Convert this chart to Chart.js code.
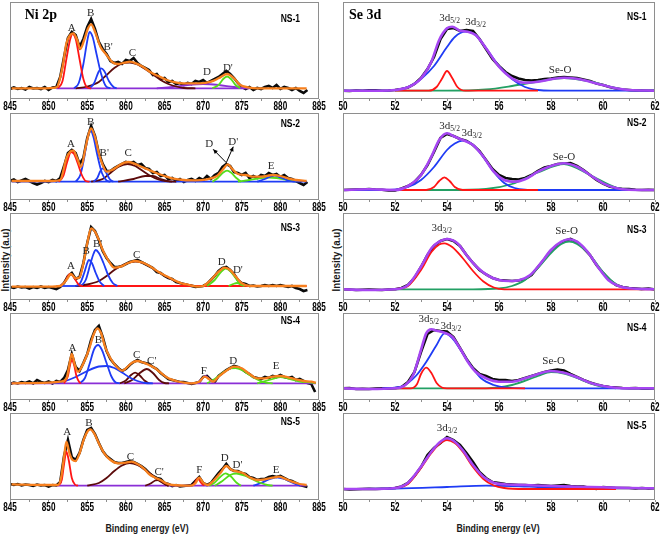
<!DOCTYPE html>
<html>
<head>
<meta charset="utf-8">
<title>Ni 2p / Se 3d XPS</title>
<script src="https://cdn.jsdelivr.net/npm/chart.js@4.4.1/dist/chart.umd.min.js"></script>
<style>
    body { margin: 0; background: #fff; }
    #wrap { position: relative; width: 661px; height: 535px; overflow: hidden; }
    #wrap canvas { position: absolute; }
    .axisTitle {
        position: absolute;
        font: bold 11px "Liberation Sans", Arial, sans-serif;
        color: #1a1a1a;
        white-space: nowrap;
        transform: translate(-50%, -50%) scaleX(0.8);
    }
    .axisTitle.vert { transform: translate(-50%, -50%) rotate(-90deg) scaleX(0.88); }
</style>
</head>
<body>
<div id="wrap">
    <div class="axisTitle" style="left:147px; top:528px;">Binding energy (eV)</div>
    <div class="axisTitle" style="left:498px; top:528px;">Binding energy (eV)</div>
    <div class="axisTitle vert" style="left:5px; top:260px;">Intensity (a.u)</div>
    <div class="axisTitle vert" style="left:336px; top:260px;">Intensity (a.u)</div>
</div>
<script>
/* ------------------- axes ------------------ */
const niTickLabels = [845, 850, 855, 860, 865, 870, 875, 880, 885];
const niMinorTicks = [847.5, 852.5, 857.5, 862.5, 867.5, 872.5, 877.5, 882.5];
const seTickLabels = [50, 52, 54, 56, 58, 60, 62];
const seMinorTicks = [51, 53, 55, 57, 59, 61];

// raw spectra are sampled on a regular energy grid
const niRawStart = 845, niRawStep = 0.5;
const seRawStart = 50, seRawStep = 0.25;

/* ------------------- Ni 2p : NS-1 ------------------ */
const ni1Raw = [10,11.5,10,11,9.5,12,10.5,11,10,12,9,11.5,12,22,42,61,67,64,52,60,72,80,70,57,50,45,38,36,37,35,39,38,41,36,33,31,29,24,25,20,21,17,18,15,16,14,16,15,18,17,19,16,18,20,22,25,28,25,21,16,12,10,12,9,11,10,12,13,11,14,10,12,11,9,11,8,6,9];
const ni1Fit = [[845.2,10.7],[849,10.7],[851,11.7],[851.8,32],[852.3,55.7],[852.8,64],[853.2,65.7],[853.7,59],[854.1,50],[854.6,59],[855.1,70.7],[855.5,74.7],[856,67.3],[856.7,52.3],[857.5,44],[858.3,36.5],[859,35],[859.8,36.3],[860.5,37.3],[861.3,35.7],[862.2,32.3],[863.1,27.3],[864.2,23],[865.3,19],[866.4,16.7],[867.4,15.7],[869.6,15.7],[871,17.3],[872,20.7],[873.1,25],[874,20.7],[874.8,14],[875.8,11.7],[877,10.7],[883.4,10.7]];
const ni1A = [[851.2,10.7],[851.8,18],[852.3,40],[852.8,60],[853.1,65],[853.5,60],[854,40],[854.5,20],[855,11.5],[855.5,10.7]];
const ni1B = [[853.3,10.7],[853.9,16],[854.5,35],[855,58],[855.3,67],[855.7,62],[856.2,45],[856.8,25],[857.4,13],[858,10.7]];
const ni1B2 = [[855.3,10.7],[855.9,16],[856.4,26],[856.8,30.7],[857.2,28],[857.8,18],[858.4,12],[858.8,10.7]];
const ni1C = [[853.5,10.7],[855,12.5],[856.5,17],[857.5,24],[858.5,31],[859.5,35.5],[860.5,36.5],[861.5,34.5],[862.5,30],[863.5,24.5],[864.5,19],[865.5,15],[866.5,12.5],[867.5,11],[869,10.7]];
const ni1D = [[864,10.7],[866,12],[868,14],[870,15],[872,14],[874,12],[876,10.7]];
const ni1D2 = [[871.2,10.7],[872,14],[872.6,20],[873.1,22.5],[873.6,20],[874.2,14],[874.8,10.7]];
const ni1Base = [[851,10.7],[876,10.7]];
const ni1Labels = [["A",853.0,71],["B",855.45,86],["B'",857.7,52],["C",860.85,46],["D",870.5,27],["D'",873.2,31]];

/* ------------------- Ni 2p : NS-2 ------------------ */
const ni2Raw = [19,20.5,18,19.5,21,19,17,15.5,17,19,18,20,19,22,34,47,50,47,36,42,62,74,64,47,36,29,29,32,34,36,38,37,38,35,36,32,31,27,28,24,25,21,22,19,21,18,20,21,19,22,20,24,21,25,27,33,36,34,28,27,25,27,22,24,22,25,24,27,25,26,23,25,22,21,19,17,15,18];
const ni2Fit = [[845.2,19],[850.5,19],[851.5,20],[852.3,41.7],[852.8,48.3],[853.2,49.3],[853.7,41.7],[854.2,33],[854.8,53],[855.2,66.7],[855.5,71.7],[856,63.3],[856.5,46.7],[857,35],[857.5,28.3],[858.2,30],[859,34],[859.8,37.3],[860.3,38],[861,36.7],[862,33.3],[863,30],[864,26.7],[865,24],[866,21.7],[867.5,20],[869,19.7],[870.5,20.7],[871.8,24],[872.5,30],[873.2,35.7],[873.8,30.7],[874.5,26],[875.5,25],[876.5,23.3],[877.5,23.3],[879,25],[880,24],[881,21.7],[882,20],[883.4,19]];
const ni2A = [[851.3,18.3],[851.9,24],[852.4,38],[852.9,48],[853.3,46],[853.8,36],[854.3,25],[854.8,19],[855.3,18.3]];
const ni2B = [[853.5,18.3],[854.1,25],[854.6,42],[855,60],[855.4,70],[855.8,63],[856.3,45],[856.9,27],[857.5,19.5],[858,18.3]];
const ni2B2 = [[855.8,18.3],[856.3,22],[856.7,29],[857,31.7],[857.4,28],[857.9,21],[858.4,18.3]];
const ni2C = [[855.5,18.3],[857,21],[858,27],[859,33],[860.2,36],[861.2,34],[862.2,29],[863.2,24],[864.2,20.5],[865.2,18.8],[866,18.3]];
const ni2C2 = [[859,18.3],[861,21],[862.5,24],[863.5,24],[864.5,21],[865.5,18.8],[866.5,18.3]];
const ni2D2 = [[871.2,18.3],[871.9,22],[872.6,27.5],[873.1,29.3],[873.6,27.5],[874.3,22],[874.9,18.3]];
const ni2E = [[874.5,18.3],[876,20],[877.5,22],[878.5,22.5],[879.5,22],[881,20],[882,18.3]];
const ni2E2 = [[877,18.3],[878,21],[879.2,24.5],[880.2,22],[881.2,19],[882,18.3]];
const ni2Base = [[845.2,18.3],[883.4,18.3]];
const ni2Labels = [["A",852.9,55.7],["B",855.45,78.3],["B'",857.2,47.3],["C",860.3,47.3],["D",870.8,55.7],["D'",873.9,58.3],["E",878.8,34.3]];
const ni2Arrows = [[873.0,37.3,871.3,50.7],[873.0,37.3,873.9,53.3]];

/* ------------------- Ni 2p : NS-3 ------------------ */
const ni3Raw = [13,12,13.5,12.5,13,11.5,13,12,13.5,12,13,12,11,13,17,24,27,21,23,37,57,73,69,60,49,42,37,33,33,34,36,38,39,40,38,36,34,32,28,27,24,22,21,18,17,16,15,14,13,13.5,14,16,20,24,29,32,33,30,26,20,17,16,14,14.5,13.5,14,15,14,15,14,15,14,13,14,12,11,9,10];
const ni3Fit = [[845.2,13.3],[850,13.3],[851.5,14],[852.3,20],[852.9,26],[853.5,21.7],[854,22.7],[854.5,36.7],[855,56.7],[855.5,71.7],[856,68.3],[856.5,60],[857,50],[857.7,40],[858.5,32.3],[859.3,33.3],[860.2,36.7],[861.2,39],[862.2,37.3],[863.2,33.3],[864.2,28.3],[865.2,24],[866.2,20],[867.2,16.7],[868.2,15],[869.2,13.3],[870,14],[871,20],[872,28.3],[872.8,32.3],[873.5,30],[874.3,22.7],[875,16.7],[876,14],[883.4,14]];
const ni3A = [[851.5,14],[852.1,18],[852.5,24],[852.8,26],[853.1,24.5],[853.6,18.5],[854,14.7],[854.4,14]];
const ni3B = [[853.5,14],[854.1,17],[854.6,27],[855,37],[855.2,40],[855.6,37],[856.1,27],[856.6,18.5],[857.2,14]];
const ni3B2 = [[854.2,14],[854.8,20],[855.4,36],[855.8,46],[856.1,50],[856.5,47],[857.1,37],[857.7,25],[858.3,17],[858.9,14]];
const ni3C = [[853.5,14],[855,15.5],[856.5,19],[857.5,24],[858.5,30],[859.5,34.5],[860.5,37.5],[861.2,38.5],[862.2,37],[863.2,33],[864.2,28],[865.2,23.5],[866.2,19.5],[867.2,16.5],[868.2,15],[869,14]];
const ni3D = [[870.5,14],[871.5,20],[872.3,28],[872.9,31.5],[873.5,29],[874.2,22],[874.8,16],[875.3,14]];
const ni3D2 = [[873.3,14],[873.9,16],[874.4,17],[874.9,15.5],[875.4,14]];
const ni3BaseBlue = [[851,14],[854.5,14]];
const ni3Base = [[854,14],[883.4,14]];
const ni3Labels = [["A",852.9,34.3],["B",854.85,49.3],["B'",856.35,55.7],["C",861.4,45],["D",872.4,38.3],["D'",874.5,30]];

/* ------------------- Ni 2p : NS-4 ------------------ */
const ni4Raw = [16,17.5,16.5,18,17,18.5,16.5,20,18,17,18.5,16.5,19,18,22,30,46,33,29,37,46,60,70,74,63,49,41,36,32,29,31,35,38,40,38,37,36,33,31,27,24,21,20,19,18,18,17,16,17,18,23,24,20,18,24,27,30,32,34,33,31,28,26,23,22,21,23,22,24,23,25,23,22,23,20,21,19,17,16,8];
const ni4Fit = [[845.2,16.7],[850,17.3],[851.5,18.3],[852.3,21.7],[852.8,40],[853,46],[853.4,35],[853.8,28.3],[854.5,36.7],[855.2,50],[855.8,65],[856.3,71.7],[856.8,66.7],[857.3,53.3],[858,41.7],[858.8,33.3],[859.5,29.3],[860,31.7],[860.8,37.3],[861.5,39],[862.3,37.3],[863,35],[863.8,31.7],[864.5,27.3],[865.5,21.7],[866.5,19],[867.5,17.3],[868.5,16.7],[869.5,18.3],[870.2,23.3],[870.8,20.7],[871.3,18.3],[872,23.3],[873,29.3],[874,33.3],[875,31.7],[876,26],[877,21.7],[878,21.7],[879,23.3],[880,24],[881,22.7],[882,20.7],[883,19],[884,18.3],[884.6,17.3]];
const ni4A = [[852,16.7],[852.5,24],[852.8,36],[853,40],[853.3,35],[853.6,24],[854,17.5],[854.2,16.7]];
const ni4B = [[854,16.7],[854.7,22],[855.3,36],[855.9,51],[856.4,55],[856.9,50],[857.5,37],[858.1,24],[858.7,17.5],[859.2,16.7]];
const ni4B2 = [[850.5,16.7],[852,18.5],[853.5,23],[855,29],[856.5,33.5],[857.5,34],[858.5,32],[859.5,27.5],[860.5,22.5],[861.5,19],[862.5,17],[863.5,16.7]];
const ni4C = [[859.2,16.7],[860,19.5],[860.6,24.5],[861.2,27.3],[861.8,24.5],[862.4,19.5],[863,16.7]];
const ni4C2 = [[859.8,16.7],[860.8,20],[861.8,27],[862.7,31],[863.5,27],[864.3,20],[865,17],[865.6,16.7]];
const ni4F = [[869.2,16.7],[869.7,20],[870.3,24],[870.9,20],[871.4,16.7]];
const ni4D = [[870.5,16.7],[871.5,21],[872.5,27],[873.5,31.5],[874.2,32],[875,30],[876,25],[877,20.5],[878,17.5],[879,16.7]];
const ni4E = [[877,16.7],[879,21],[880,23],[881,21.5],[882.5,18.5],[884,17.5],[884.6,17]];
const ni4Base = [[845.2,16.7],[884.6,16.7]];
const ni4Labels = [["A",853.1,52.3],["B",856.45,60],["C",861.4,45],["C'",863.35,39],["F",870.1,29.3],["D",873.9,39],["E",879.45,34.3]];

/* ------------------- Ni 2p : NS-5 ------------------ */
const ni5Raw = [16,15,16,14.5,15.5,15,14,15.5,14.5,15,13.5,15,14.5,18,44,60,43,40,47,60,70,72,66,57,49,44,41,38,37,37,38,39,38,36,34,31,27,24,22,21,17,16,14,15,13.5,14,14.5,15,19,23,17,15,17,22,27,31,36,31,29,29,27,26,23,22,20,21,21,23,24,23,24,22,20,19,17,15,14,13];
const ni5Fit = [[845.2,15.7],[850,15],[851.2,15],[851.6,21.7],[852,43.3],[852.3,58.3],[852.7,46.7],[853.1,40],[853.5,39],[854,46.7],[854.6,61.7],[855.1,69.3],[855.4,70.7],[855.9,66.7],[856.5,56.7],[857.2,46.7],[858,40],[859,36.7],[860,37.3],[860.7,38.3],[861.5,36],[862.3,31.7],[863,26],[863.8,22.3],[864.5,20],[865.2,16.7],[866,15],[868.5,14.3],[869,16.7],[869.5,22.3],[870,17.3],[870.6,15],[871.3,19],[872.2,26.7],[873,34],[873.7,30],[874.5,28.3],[875.2,26.7],[876,22.7],[877,20],[878,20.7],[879,22.3],[879.8,23.3],[880.5,21.7],[881.5,18.3],[882.5,16],[883.4,15]];
const ni5A = [[851.2,14.3],[851.7,20],[852,36],[852.3,48.3],[852.6,40],[853,22],[853.4,15.5],[853.8,14.3]];
const ni5C = [[855,14.3],[856.5,17],[857.5,22],[858.5,29],[859.5,34.5],[860.5,37],[861.5,35],[862.5,30],[863.3,25.5],[864,21],[864.8,17],[865.5,14.3]];
const ni5C2 = [[862.5,14.3],[863.2,16.5],[863.8,19.5],[864.2,20],[864.6,18.5],[865.2,15],[865.6,14.3]];
const ni5F = [[868.5,14.3],[868.9,17],[869.3,21.7],[869.7,17.5],[870.1,14.3]];
const ni5D = [[870.8,14.3],[871.5,17.5],[872.2,23],[872.9,26.7],[873.6,23.5],[874.3,17.5],[874.9,14.3]];
const ni5D2 = [[871.5,14.3],[872.5,19],[873.5,25],[874.3,26.5],[875.3,24.5],[876.3,21],[877.3,17.5],[878.3,15],[879,14.3]];
const ni5E = [[876.5,14.3],[877.5,17],[878.5,20.5],[879.5,22.7],[880.5,21],[881.5,17.5],[882.5,14.3]];
const ni5Base = [[851,14.3],[883.4,14.3]];
const ni5Labels = [["A",852.4,67.7],["B",855.2,76.7],["C",860.6,42.7],["C'",864.3,28.3],["F",869.5,30],["D",872.8,42.3],["D'",874.45,35],["E",879.45,30]];

/* ------------------- Se 3d : NS-1 ------------------ */
const se1Raw = [8.3,8,8.5,8.3,8.6,8.8,8.3,8.5,9,10,11.5,15,21,30,42,60,70,71,68,69,68,60,50,40,33,27,23,20.5,19,18.5,19,20,20.5,21.5,22,21.5,21,19.5,18,15.5,14,12,10.5,9.5,9,8.5,8.5,8.3,8.3];
const se1Fit = [[50,8.3],[51.5,8.3],[52,9],[52.5,11.7],[53,20.7],[53.4,37.3],[53.7,59],[54,70.7],[54.2,72.3],[54.5,68.3],[54.8,67.3],[55.1,64],[55.5,50.7],[56,32.3],[56.5,20.7],[57,16.3],[57.5,17.3],[58,19.7],[58.5,21.3],[59,20.3],[59.5,17.3],[60,14],[60.5,10.7],[61,9],[62,8.3]];
const se1Red = [[52,8.3],[53.3,8.3],[53.6,12],[53.8,20],[54,28],[54.2,21],[54.4,12],[54.7,8.3],[57.5,8.3]];
const se1Blue = [[50,8.3],[51.5,8.3],[52.5,12],[53,20],[53.5,33],[54,52],[54.3,62],[54.7,67.3],[55.1,64],[55.5,51],[56,33],[56.5,20],[57,12],[57.5,9],[58,8.3],[62,8.3]];
const se1Green = [[52,8.3],[54,8.3],[55.5,9.5],[56.5,13],[57.5,17.5],[58.5,21],[59.5,17.5],[60.5,11],[61.2,8.3],[62,8.3]];
const se1Labels = [["3d",54.1,80.7,"5/2"],["3d",55.1,77.3,"3/2"],["Se-O",58.35,29]];

/* ------------------- Se 3d : NS-2 ------------------ */
const se2Raw = [10,10.3,10.5,10.5,11,10.5,10.3,9.5,9.5,11.5,14,18,25,35,48,62,66,64,61,59,55,49,40,31,25,22,21,20.5,22,25,29,32.5,34,36,36.5,37,34,30,25,20,16.5,13.5,12,11,11,10.3,10,10.2,10];
const se2Fit = [[50,10],[51,10.7],[52,10],[52.5,14],[53,25],[53.4,43.3],[53.7,60],[54,66.7],[54.3,63.3],[54.6,60],[55,55],[55.4,43.3],[55.8,28.3],[56.2,20],[56.6,18.3],[57,20.7],[57.5,28.3],[58,34],[58.5,36.7],[59,33.3],[59.5,25],[60,16.7],[60.5,12],[61,10.3],[62,10]];
const se2Red = [[52,10],[53.2,10],[53.5,13],[53.7,19],[53.9,22.7],[54.1,19],[54.3,13],[54.6,10],[57.5,10]];
const se2Blue = [[50,10],[51.5,10],[52.5,13],[53,20],[53.5,33],[54,50],[54.3,56.5],[54.6,59.3],[55,55],[55.4,43],[55.8,28],[56.2,17],[56.6,12],[57,10.3],[57.5,10],[62,10]];
const se2Green = [[52,10],[54,10],[55.5,11],[56.5,16],[57.5,27.5],[58.5,36],[59.5,25],[60.5,12.5],[61.2,10],[62,10]];
const se2Labels = [["3d",54.1,74,"5/2"],["3d",54.95,67.3,"3/2"],["Se-O",58.5,42.7]];

/* ------------------- Se 3d : NS-3 ------------------ */
const se3Raw = [10.7,10.5,10,10.2,10.5,10.3,10,10.5,10.7,12,15,22,33,45,54,59,61,59,54,45,37,30,25.5,22,20,19.5,19,19.5,21,25,33,41,49.5,55,59,61,58,52,45,35,27,20,15,13,12,11.5,11,11.5,10.5];
const se3Fit = [[50,10.7],[51,10],[52,10.7],[52.5,15],[53,33.3],[53.4,51.7],[53.7,58.3],[54,61],[54.4,56.7],[54.8,43.3],[55.2,31.7],[55.6,24],[56,20],[56.4,19],[56.8,20],[57.2,25],[57.6,36.7],[58,50],[58.4,58.3],[58.7,60.7],[59,58.3],[59.4,48.3],[59.8,33.3],[60.2,20],[60.6,14],[61,11.7],[62,10.7]];
const se3Red = [[52,10.7],[52.5,14],[53,30],[53.4,48],[53.7,55.5],[53.9,56.7],[54.2,53],[54.6,42],[55,29],[55.4,18.5],[55.8,12.5],[56.2,10.7],[62,10.7]];
const se3Green = [[52,10.7],[55,10.7],[56,11.5],[56.5,14],[57,20],[57.5,32],[58,47],[58.4,56],[58.7,58.5],[59,56],[59.5,45],[60,28],[60.5,16],[61,11.5],[61.5,10.7]];
const se3Labels = [["3d",53.8,71.7,"3/2"],["Se-O",58.6,69.3]];

/* ------------------- Se 3d : NS-4 ------------------ */
const se4Raw = [11.7,12,11,11.2,11,11.5,11.7,11.5,11.7,13,18,28,48,66,70,69,68.5,63,52,41,32,26,24,21,20,20,19,20,22,24,26,28,29.5,30.5,29.5,26,23,20,17.5,15.5,14,13,12.5,12,11.7,12,11.5,11.5,11.7];
const se4Fit = [[50,11.7],[51,11],[52,11.7],[52.4,15],[52.7,25],[53,50],[53.2,66.7],[53.4,70.7],[53.6,69.3],[53.9,67.3],[54.2,63.3],[54.5,51.7],[54.8,38.3],[55.1,28.3],[55.5,21.7],[56,18.3],[56.5,18.3],[57,21.7],[57.5,26],[58,29],[58.5,27.3],[59,22.7],[59.5,17.3],[60,14],[60.5,12.3],[61,11.7],[62,11.7]];
const se4Red = [[52,11.7],[52.6,11.7],[52.85,16],[53,26],[53.2,32.3],[53.4,27],[53.6,17],[53.8,12.5],[54,11.7],[57,11.7]];
const se4Blue = [[51.5,11.7],[52.3,14],[52.8,24],[53.2,38],[53.6,55],[53.9,66.7],[54.2,62],[54.5,51],[54.9,35],[55.3,22],[55.8,15],[56.3,12.3],[57,11.7],[62,11.7]];
const se4Green = [[52,11.7],[55.5,11.7],[56.5,15],[57.5,24],[58,28],[58.5,26.5],[59,22],[59.5,16.5],[60,13],[60.5,11.7]];
const se4Labels = [["3d",53.3,80.7,"5/2"],["3d",54.15,74,"3/2"],["Se-O",58.1,39]];

/* ------------------- Se 3d : NS-5 ------------------ */
const se5Raw = [11,10.5,10.7,11,11.2,11,11.3,11.5,12,13.5,17,24,33,45,52,57,63,60,55,47,38,28,22,18,17,16,15.5,15,15,14.5,15,14.5,14,14.5,15,14,13.5,13.5,12,11,13,12.5,12,12,12,11.5,12,11.5,11.7];
const se5Fit = [[50,11],[51,11],[52,12],[52.5,17.3],[53,33.3],[53.4,48.3],[53.7,57.3],[54,61.7],[54.3,58.3],[54.6,50],[55,35],[55.4,23.3],[55.8,17.3],[56.2,15.7],[57,15],[58,14],[59,13.3],[60,12.7],[61,12],[62,11.7]];
const se5Red = [[52,11.5],[52.5,16],[53,32],[53.4,47],[53.7,56],[54,60],[54.3,57],[54.6,48.5],[55,33],[55.4,21],[55.8,14.5],[56.2,12],[57,11],[60.5,11]];
const se5Blue = [[50,11],[52,11.5],[54,13],[55.5,14.3],[56.5,14],[57.5,13],[58.5,12],[59.5,11.5],[60.5,11]];
const se5Labels = [["3d",54.0,71.7,"3/2"]];

/* ------------------- styles ------------------ */
const COLORS = {
    raw: "#0a0a0a",
    fitNi: "#f7801e",
    fitSe: "#a646f2",
    red: "#ff1515",
    blue: "#1f3cf5",
    maroon: "#5c0b0b",
    green: "#55dd1a",
    violet: "#8a2fd6",
    teal: "#23a064"
};

const COLUMNS = {
    ni: { left: 0, width: 330, padLeft: 10, padRight: 11, min: 845, max: 885, major: niTickLabels, minor: niMinorTicks, rawStart: niRawStart, rawStep: niRawStep, fit: COLORS.fitNi, tagX: 881.3 },
    se: { left: 330, width: 331, padLeft: 13, padRight: 6, min: 50, max: 62, major: seTickLabels, minor: seMinorTicks, rawStart: seRawStart, rawStep: seRawStep, fit: COLORS.fitSe, tagX: 61.3 }
};

const ROWS = [
    { boxTop: 2, boxBottom: 99 },
    { boxTop: 113, boxBottom: 200 },
    { boxTop: 213, boxBottom: 300 },
    { boxTop: 313, boxBottom: 400 },
    { boxTop: 413, boxBottom: 500 }
];

const panels = [
    { col: "ni", row: 0, tag: ["NS-1", 80], title: ["Ni 2p", 849.0, 84], raw: ni1Raw, fit: ni1Fit, labels: ni1Labels,
      parts: [[ni1A, COLORS.red], [ni1B, COLORS.blue], [ni1B2, COLORS.blue], [ni1C, COLORS.maroon], [ni1D2, COLORS.green], [ni1D, COLORS.violet], [ni1Base, COLORS.violet]] },
    { col: "ni", row: 1, tag: ["NS-2", 76], raw: ni2Raw, fit: ni2Fit, labels: ni2Labels, arrows: ni2Arrows,
      parts: [[ni2A, COLORS.red], [ni2B, COLORS.blue], [ni2B2, COLORS.blue], [ni2C, COLORS.maroon], [ni2C2, COLORS.maroon], [ni2D2, COLORS.green], [ni2E2, COLORS.blue], [ni2E, COLORS.green], [ni2Base, COLORS.blue]] },
    { col: "ni", row: 2, tag: ["NS-3", 72], raw: ni3Raw, fit: ni3Fit, labels: ni3Labels,
      parts: [[ni3A, COLORS.red], [ni3B, COLORS.blue], [ni3B2, COLORS.blue], [ni3C, COLORS.maroon], [ni3D, COLORS.green], [ni3D2, COLORS.green], [ni3Base, COLORS.red], [ni3BaseBlue, COLORS.blue]] },
    { col: "ni", row: 3, tag: ["NS-4", 79], raw: ni4Raw, fit: ni4Fit, labels: ni4Labels,
      parts: [[ni4A, COLORS.red], [ni4B, COLORS.blue], [ni4B2, COLORS.blue], [ni4C, COLORS.maroon], [ni4C2, COLORS.maroon], [ni4F, COLORS.violet], [ni4D, COLORS.green], [ni4E, COLORS.green], [ni4Base, COLORS.violet]] },
    { col: "ni", row: 4, tag: ["NS-5", 78], raw: ni5Raw, fit: ni5Fit, labels: ni5Labels,
      parts: [[ni5A, COLORS.red], [ni5C, COLORS.maroon], [ni5C2, COLORS.maroon], [ni5F, COLORS.red], [ni5D, COLORS.green], [ni5D2, COLORS.green], [ni5E, COLORS.blue], [ni5Base, COLORS.violet]] },

    { col: "se", row: 0, tag: ["NS-1", 81.7], title: ["Se 3d", 50.85, 84], raw: se1Raw, fit: se1Fit, labels: se1Labels,
      parts: [[se1Red, COLORS.red], [se1Blue, COLORS.blue], [se1Green, COLORS.teal]] },
    { col: "se", row: 1, tag: ["NS-2", 77], raw: se2Raw, fit: se2Fit, labels: se2Labels,
      parts: [[se2Red, COLORS.red], [se2Blue, COLORS.blue], [se2Green, COLORS.teal]] },
    { col: "se", row: 2, tag: ["NS-3", 69.3], raw: se3Raw, fit: se3Fit, labels: se3Labels,
      parts: [[se3Red, COLORS.red], [se3Green, COLORS.teal]] },
    { col: "se", row: 3, tag: ["NS-4", 72], raw: se4Raw, fit: se4Fit, labels: se4Labels,
      parts: [[se4Red, COLORS.red], [se4Blue, COLORS.blue], [se4Green, COLORS.teal]] },
    { col: "se", row: 4, tag: ["NS-5", 73.3], raw: se5Raw, fit: se5Fit, labels: se5Labels,
      parts: [[se5Red, COLORS.red], [se5Blue, COLORS.blue]] }
];

/* ------------------- helpers ------------------ */
const AXIS_H = 16;
const SERIF = '"Liberation Serif", "Times New Roman", serif';
const SANS = '"Liberation Sans", Arial, sans-serif';

function pairs(arr) {
    return arr.map(([x, y]) => ({ x, y }));
}

function rawPoints(vals, start, step) {
    return vals.map((v, i) => ({ x: start + i * step, y: v }));
}

function lineSet(data, color, width, smooth) {
    return {
        data,
        borderColor: color,
        borderWidth: width,
        pointRadius: 0,
        fill: false,
        tension: 0,
        cubicInterpolationMode: smooth ? "monotone" : "default"
    };
}

// narrow bold text, like the condensed face of the original figure
function narrowText(ctx, text, px, py, squeeze) {
    ctx.save();
    ctx.translate(px, py);
    ctx.scale(squeeze, 1);
    ctx.fillText(text, 0, 0);
    ctx.restore();
}

function drawArrow(ctx, x0, y0, x1, y1) {
    const ang = Math.atan2(y1 - y0, x1 - x0);
    ctx.beginPath();
    ctx.moveTo(x0, y0);
    ctx.lineTo(x1, y1);
    ctx.stroke();
    ctx.beginPath();
    ctx.moveTo(x1, y1);
    ctx.lineTo(x1 - 5 * Math.cos(ang - 0.45), y1 - 5 * Math.sin(ang - 0.45));
    ctx.lineTo(x1 - 5 * Math.cos(ang + 0.45), y1 - 5 * Math.sin(ang + 0.45));
    ctx.closePath();
    ctx.fill();
}

function decorPlugin(panel, col) {
    return {
        id: "decor",
        afterDraw(chart) {
            const { ctx, chartArea: a, scales: { x, y } } = chart;
            ctx.save();
            ctx.strokeStyle = "#8e8e8e";
            ctx.lineWidth = 1;
            ctx.strokeRect(Math.round(a.left) + 0.5, Math.round(a.top) + 0.5,
                Math.round(a.right - a.left) - 1, Math.round(a.bottom - a.top) - 1);

            ctx.textAlign = "center";
            ctx.textBaseline = "middle";
            ctx.fillStyle = "#000";

            // tick labels, placed by the x scale
            ctx.font = `bold 12px ${SANS}`;
            for (const v of col.major) {
                narrowText(ctx, String(v), x.getPixelForValue(v), a.bottom + 8, 0.68);
            }

            if (panel.title) {
                ctx.font = `bold 14px ${SERIF}`;
                ctx.fillText(panel.title[0], x.getPixelForValue(panel.title[1]), y.getPixelForValue(panel.title[2]));
            }
            ctx.font = `bold 10px ${SANS}`;
            narrowText(ctx, panel.tag[0], x.getPixelForValue(col.tagX), y.getPixelForValue(panel.tag[1]), 0.85);

            ctx.fillStyle = "#2a2a2a";
            for (const [text, ex, ev, sub] of panel.labels) {
                const px = x.getPixelForValue(ex);
                const py = y.getPixelForValue(ev);
                ctx.font = `11px ${SERIF}`;
                if (!sub) {
                    ctx.fillText(text, px, py);
                    continue;
                }
                const mainW = ctx.measureText(text).width;
                ctx.font = `7.5px ${SERIF}`;
                const subW = ctx.measureText(sub).width;
                const left = px - (mainW + subW) / 2;
                ctx.textAlign = "left";
                ctx.fillText(sub, left + mainW, py + 3);
                ctx.font = `11px ${SERIF}`;
                ctx.fillText(text, left, py);
                ctx.textAlign = "center";
            }

            ctx.strokeStyle = "#000";
            ctx.fillStyle = "#000";
            ctx.lineWidth = 1;
            for (const [e0, v0, e1, v1] of panel.arrows || []) {
                drawArrow(ctx, x.getPixelForValue(e0), y.getPixelForValue(v0), x.getPixelForValue(e1), y.getPixelForValue(v1));
            }
            ctx.restore();
        }
    };
}

/* ------------------- build ------------------ */
function buildPanel(panel) {
    const col = COLUMNS[panel.col];
    const row = ROWS[panel.row];
    const padTop = 3;
    const padBottom = 4;
    const canvasTop = Math.max(0, row.boxTop - padTop);
    const height = row.boxBottom - canvasTop + AXIS_H + padBottom;
    const yMax = row.boxBottom - row.boxTop;

    const canvas = document.createElement("canvas");
    canvas.width = col.width;
    canvas.height = height;
    canvas.style.left = col.left + "px";
    canvas.style.top = canvasTop + "px";
    document.getElementById("wrap").appendChild(canvas);

    const datasets = [lineSet(pairs(panel.fit), col.fit, panel.col === "ni" ? 2.3 : 2.6, true)];
    for (const [pts, color] of panel.parts) {
        datasets.push(lineSet(pairs(pts), color, 1.8, true));
    }
    datasets.push(lineSet(rawPoints(panel.raw, col.rawStart, col.rawStep), COLORS.raw, 2.6, false));

    const allTicks = [...col.major, ...col.minor].sort((p, q) => p - q);

    new Chart(canvas, {
        type: "line",
        data: { datasets },
        options: {
            responsive: false,
            animation: false,
            devicePixelRatio: 1,
            parsing: false,
            layout: {
                padding: { left: col.padLeft, right: col.padRight, top: row.boxTop - canvasTop, bottom: padBottom }
            },
            plugins: { legend: { display: false }, tooltip: { enabled: false } },
            scales: {
                x: {
                    type: "linear",
                    min: col.min,
                    max: col.max,
                    afterBuildTicks: (s) => { s.ticks = allTicks.map(v => ({ value: v })); },
                    afterFit: (s) => { s.height = AXIS_H; },
                    border: { display: false },
                    grid: { drawOnChartArea: false, drawTicks: true, tickLength: 2, color: "#8e8e8e" },
                    ticks: { display: false, autoSkip: false }
                },
                y: { display: false, min: 0, max: yMax }
            }
        },
        plugins: [decorPlugin(panel, col)]
    });
}

document.addEventListener("DOMContentLoaded", () => panels.forEach(buildPanel));
</script>
</body>
</html>
